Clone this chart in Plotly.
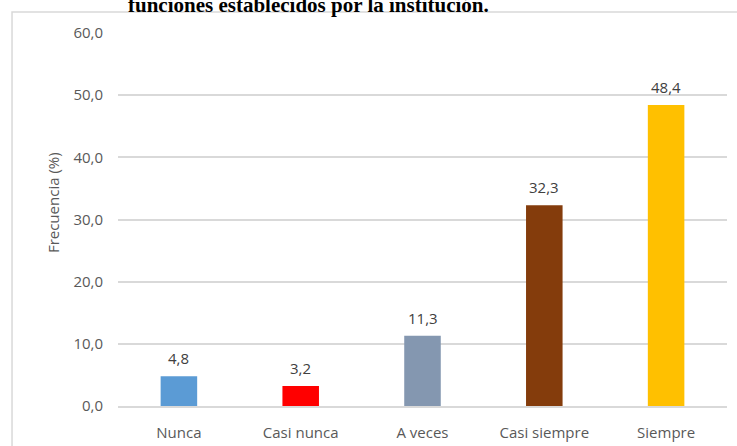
import plotly.graph_objects as go

categories = ["Nunca", "Casi nunca", "A veces", "Casi siempre", "Siempre"]
values = [4.8, 3.2, 11.3, 32.3, 48.4]
labels = ["4,8", "3,2", "11,3", "32,3", "48,4"]
colors = ["#5B9BD5", "#FF0000", "#8497B0", "#843C0C", "#FFC000"]
tick_vals = [0, 10, 20, 30, 40, 50, 60]
tick_text = ["0,0", "10,0", "20,0", "30,0", "40,0", "50,0", "60,0"]
title_text = "funciones establecidos por la institución."
y_title = "Frecuencia (%)"

FONT = "Open Sans"

fig = go.Figure()
fig.add_trace(go.Bar(x=categories, y=values, marker=dict(color=colors, line=dict(width=0)),
                     hoverinfo="skip"))

annotations = []
for c, v, t in zip(categories, values, labels):
    annotations.append(dict(x=c, y=v, xref="x", yref="y", text=t, showarrow=False,
                            yanchor="bottom", yshift=6,
                            font=dict(family=FONT, size=15, color="#404040")))
annotations.append(dict(x=0.3136, y=1.075, xref="paper", yref="paper", text="<b>" + title_text + "</b>",
                        showarrow=False, xanchor="center", yanchor="middle",
                        font=dict(family="Liberation Serif", size=21, color="#000000")))
annotations.append(dict(x=-0.1067, y=0.544, xref="paper", yref="paper", text=y_title,
                        showarrow=False, textangle=-90, xanchor="center", yanchor="middle",
                        font=dict(family=FONT, size=15, color="#595959")))

fig.update_layout(
    width=737, height=446,
    margin=dict(l=118, r=10, t=33, b=40),
    paper_bgcolor="white", plot_bgcolor="white",
    bargap=0.7,
    showlegend=False,
    annotations=annotations,
    shapes=[dict(type="rect", xref="paper", yref="paper", x0=-0.174, y0=-0.3, x1=1.2, y1=1.0563,
                 line=dict(color="#D9D9D9", width=1.5), fillcolor="rgba(0,0,0,0)", layer="below")],
    xaxis=dict(showgrid=False, showline=True, linecolor="#D9D9D9", linewidth=1.5, ticks="",
               ticklabelstandoff=12, automargin=False,
               tickfont=dict(family=FONT, size=15, color="#595959"), fixedrange=True),
    yaxis=dict(range=[0, 60], tickvals=tick_vals, ticktext=tick_text, showgrid=True,
               gridcolor="#D9D9D9", gridwidth=1.5, zeroline=False, showline=False, ticks="",
               ticklabelstandoff=14, automargin=False,
               tickfont=dict(family=FONT, size=15, color="#595959"), fixedrange=True),
)

fig.write_html("out.html", config={"displayModeBar": False},
               post_script="document.body.style.margin='0';document.body.style.overflow='hidden';")
